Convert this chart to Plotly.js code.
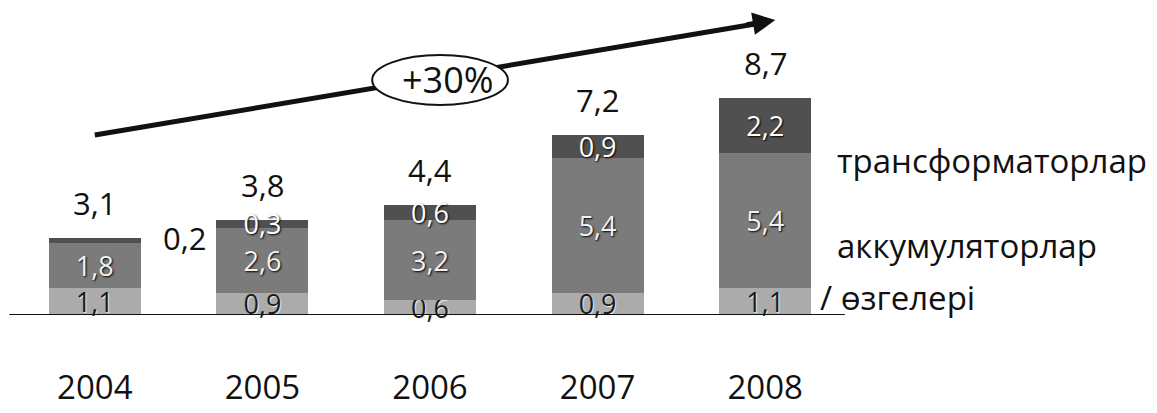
<!DOCTYPE html>
<html><head><meta charset="utf-8">
<script src="https://cdn.plot.ly/plotly-3.0.1.min.js"></script>
<style>html,body{margin:0;padding:0;background:#fff}</style>
</head><body>
<div id="chart" style="width:1157px;height:413px"></div>
<script>
const years = ['2004','2005','2006','2007','2008'];
const other = [1.1, 0.9, 0.6, 0.9, 1.1];
const accum = [1.8, 2.6, 3.2, 5.4, 5.4];
const trans = [0.2, 0.3, 0.6, 0.9, 2.2];
const totals = [3.1, 3.8, 4.4, 7.2, 8.7];
const seriesNames = ['трансформаторлар', 'аккумуляторлар', 'өзгелері'];
const growthLabel = '+30%';

const fmt = v => v.toFixed(1).replace('.', ',');
const FONT = 'Open Sans';
const VAL_SIZE = 31;
const IN_SIZE = 27;

function barTrace(vals, color, txtColor, shadow, name, hideIdx) {
  return {
    type: 'bar', x: years, y: vals, name: name,
    marker: {color: color, line: {width: 0}},
    text: vals.map((v, i) => i === hideIdx ? '' : fmt(v)),
    textposition: 'inside', insidetextanchor: 'middle',
    textfont: {family: FONT, size: IN_SIZE, color: txtColor, shadow: shadow},
    constraintext: 'none', cliponaxis: false, hoverinfo: 'skip'
  };
}

const traces = [
  barTrace(other, '#ababab', '#1a1a1a', '1px 1px 1px #eee', seriesNames[2], -1),
  barTrace(accum, '#7b7b7b', '#f2f2f2', '1px 1px 2px #000', seriesNames[1], -1),
  barTrace(trans, '#505050', '#ffffff', '1px 1px 2px #000', seriesNames[0], 0)
];

const annotations = [];
years.forEach((yr, i) => {
  annotations.push({x: i, y: totals[i], xref: 'x', yref: 'y', text: fmt(totals[i]),
    showarrow: false, yanchor: 'bottom', yshift: 12,
    font: {family: FONT, size: VAL_SIZE, color: '#111'}});
});
annotations.push(
  {x: 0, y: other[0] + accum[0] + trans[0], xref: 'x', yref: 'y',
   text: fmt(trans[0]), showarrow: false, xshift: 90, yanchor: 'middle',
   font: {family: FONT, size: VAL_SIZE, color: '#111'}},
  {xref: 'paper', yref: 'paper', x: 0.983, y: 0.525, xanchor: 'left', yanchor: 'middle',
   text: seriesNames[0], showarrow: false, font: {family: FONT, size: 33, color: '#111'}},
  {xref: 'paper', yref: 'paper', x: 0.983, y: 0.237, xanchor: 'left', yanchor: 'middle',
   text: seriesNames[1], showarrow: false, font: {family: FONT, size: 33, color: '#111'}},
  {xref: 'paper', yref: 'paper', x: 0.963, y: 0.058, xanchor: 'left', yanchor: 'middle',
   text: '/ ' + seriesNames[2], showarrow: false, font: {family: FONT, size: 33, color: '#111'}},
  {xref: 'paper', yref: 'paper', x: 0.912, y: 1.0, axref: 'pixel', ayref: 'pixel',
   ax: -30, ay: 5, text: '', showarrow: true, arrowhead: 2, arrowsize: 0.9,
   arrowwidth: 5, arrowcolor: '#111'},
  {xref: 'paper', yref: 'paper', x: 0.521, y: 0.798, text: growthLabel, showarrow: false,
   font: {family: FONT, size: 36, color: '#111'}, xanchor: 'center', yanchor: 'middle'}
);

const shapes = [
  {type: 'line', xref: 'paper', yref: 'paper', x0: 0.100, y0: 0.61, x1: 0.895, y1: 0.990,
   line: {color: '#111', width: 5}, layer: 'above'},
  {type: 'circle', xref: 'paper', yref: 'paper', x0: 0.431, x1: 0.593, y0: 0.712, y1: 0.881,
   fillcolor: '#fff', line: {color: '#111', width: 2}, layer: 'above'},
  {type: 'line', xref: 'paper', yref: 'y', x0: -0.002, x1: 0.995, y0: 0, y1: 0,
   line: {color: '#111', width: 2}, layer: 'above'}
];

const layout = {
  width: 1157, height: 413,
  margin: {l: 11, r: 308, t: 20, b: 98},
  paper_bgcolor: '#fff', plot_bgcolor: '#fff',
  barmode: 'stack', bargap: 0.45, showlegend: false,
  font: {family: FONT, color: '#111'},
  xaxis: {type: 'category', range: [-0.5, 4.5], autorange: false, showgrid: false,
          zeroline: false, showline: false, ticks: '', ticklabelstandoff: 50,
          tickfont: {family: FONT, size: 33, color: '#111'}},
  yaxis: {range: [0, 11.8], autorange: false, visible: false, showgrid: false, zeroline: false},
  annotations: annotations,
  shapes: shapes
};

Plotly.newPlot('chart', traces, layout, {displayModeBar: false, staticPlot: true});
</script>
</body></html>
